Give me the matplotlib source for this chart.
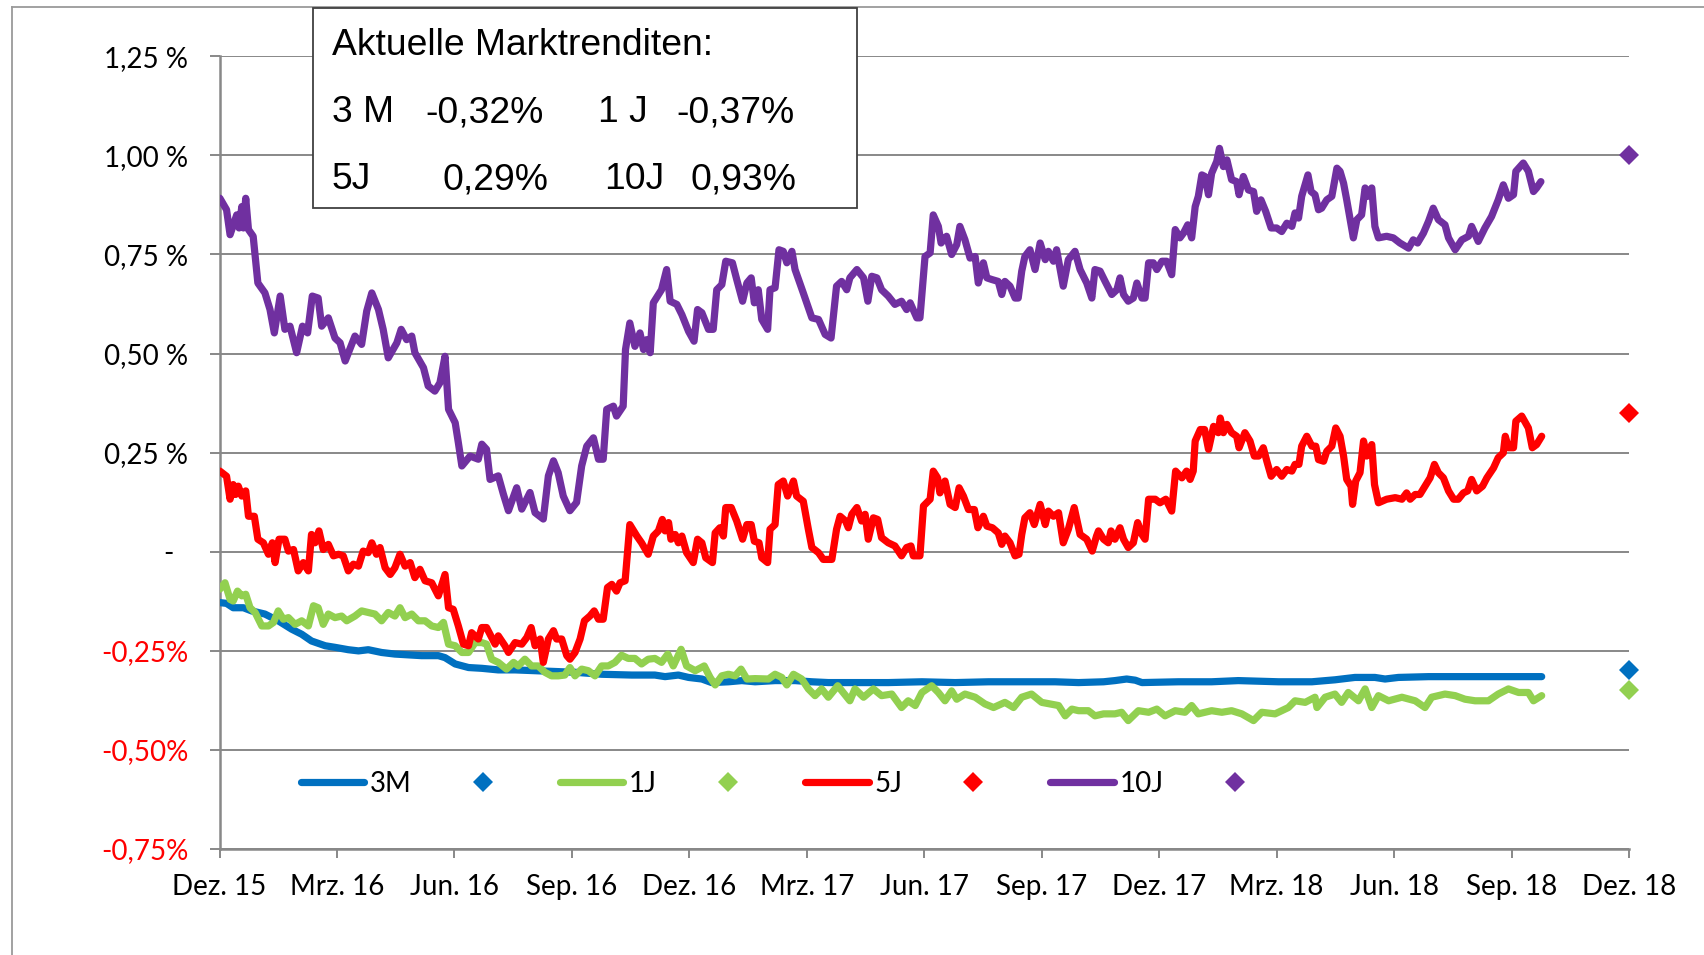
import matplotlib
matplotlib.use("Agg")
import matplotlib.pyplot as plt
from matplotlib.lines import Line2D
from matplotlib.patches import Rectangle

W, H = 1704, 955

# x-Werte: Monate seit 1. Dez. 2015, y-Werte: Rendite in %
m_3m = [0.01, 0.18, 0.35, 0.61, 0.82, 1.16, 1.50, 1.84, 2.10, 2.35, 2.70, 2.95, 3.29, 3.55, 3.80,
        4.14, 4.48, 4.82, 5.16, 5.59, 5.76, 6.02, 6.36, 6.70, 7.12, 7.55, 8.06, 8.57, 9.08, 9.76,
        10.53, 11.12, 11.38, 11.72, 11.98, 12.32, 12.57, 13.00, 13.34, 13.68, 14.19, 14.70, 15.13,
        15.55, 16.23, 17.08, 17.94, 18.79, 19.64, 20.49, 21.34, 21.94, 22.58, 22.87, 23.17, 23.39,
        23.56, 24.49, 25.34, 26.02, 27.05, 27.90, 28.49, 29.00, 29.51, 29.77, 30.11, 30.88, 31.73,
        32.58, 33.77]
y_3m = [-0.129, -0.131, -0.142, -0.142, -0.150, -0.158, -0.175, -0.196, -0.209, -0.226, -0.238,
        -0.242, -0.248, -0.251, -0.248, -0.255, -0.259, -0.261, -0.263, -0.263, -0.268, -0.284,
        -0.293, -0.295, -0.299, -0.299, -0.301, -0.303, -0.305, -0.310, -0.312, -0.312, -0.316,
        -0.312, -0.318, -0.322, -0.331, -0.329, -0.326, -0.329, -0.326, -0.326, -0.329, -0.331,
        -0.331, -0.331, -0.329, -0.331, -0.329, -0.329, -0.329, -0.331, -0.329, -0.326, -0.322,
        -0.325, -0.331, -0.329, -0.329, -0.326, -0.329, -0.329, -0.324, -0.318, -0.318, -0.322,
        -0.318, -0.316, -0.316, -0.316, -0.316]

m_1j = [0.01, 0.14, 0.27, 0.35, 0.46, 0.57, 0.67, 0.78, 0.91, 1.08, 1.25, 1.38, 1.50, 1.63, 1.76,
        1.93, 2.10, 2.27, 2.40, 2.52, 2.65, 2.78, 2.95, 3.12, 3.25, 3.46, 3.63, 3.80, 3.97, 4.14,
        4.31, 4.48, 4.61, 4.74, 4.91, 5.08, 5.25, 5.42, 5.59, 5.72, 5.85, 6.02, 6.19, 6.36, 6.53,
        6.70, 6.82, 6.95, 7.12, 7.33, 7.51, 7.63, 7.80, 7.97, 8.14, 8.31, 8.48, 8.65, 8.82, 8.95,
        9.08, 9.25, 9.42, 9.59, 9.76, 9.93, 10.10, 10.27, 10.44, 10.61, 10.78, 10.95, 11.12,
        11.29, 11.45, 11.59, 11.79, 11.93, 12.15, 12.38, 12.53, 12.66, 12.83, 13.00, 13.17, 13.32,
        13.47, 13.68, 14.02, 14.19, 14.36, 14.49, 14.66, 14.87, 15.04, 15.21, 15.38, 15.55, 15.79,
        15.93, 16.10, 16.23, 16.45, 16.70, 16.91, 17.17, 17.42, 17.59, 17.77, 17.94, 18.19, 18.36,
        18.53, 18.70, 18.83, 19.04, 19.30, 19.55, 19.77, 20.06, 20.28, 20.49, 20.74, 21.00, 21.21,
        21.43, 21.60, 21.77, 21.94, 22.19, 22.36, 22.58, 22.87, 23.04, 23.21, 23.47, 23.73, 23.94,
        24.15, 24.41, 24.66, 24.83, 25.00, 25.34, 25.60, 25.85, 26.11, 26.41, 26.62, 26.96, 27.13,
        27.30, 27.47, 27.73, 27.98, 28.03, 28.24, 28.49, 28.66, 28.83, 29.09, 29.26, 29.43, 29.60,
        29.86, 30.20, 30.54, 30.79, 30.96, 31.30, 31.56, 31.81, 32.07, 32.41, 32.66, 32.92, 33.18,
        33.43, 33.56, 33.77]
y_1j = [-0.095, -0.079, -0.121, -0.125, -0.100, -0.112, -0.108, -0.142, -0.154, -0.188, -0.188,
        -0.179, -0.150, -0.171, -0.167, -0.184, -0.175, -0.188, -0.137, -0.142, -0.184, -0.158,
        -0.167, -0.163, -0.175, -0.163, -0.150, -0.154, -0.158, -0.175, -0.154, -0.163, -0.142,
        -0.167, -0.158, -0.175, -0.175, -0.188, -0.192, -0.179, -0.234, -0.238, -0.255, -0.255,
        -0.230, -0.230, -0.234, -0.272, -0.280, -0.297, -0.280, -0.289, -0.272, -0.289, -0.289,
        -0.305, -0.314, -0.314, -0.312, -0.293, -0.314, -0.297, -0.301, -0.314, -0.289, -0.289,
        -0.280, -0.262, -0.270, -0.270, -0.284, -0.272, -0.270,
        -0.280, -0.259, -0.289, -0.247, -0.289, -0.301, -0.289, -0.318, -0.337, -0.314, -0.310,
        -0.314, -0.297, -0.322, -0.321, -0.322, -0.310, -0.318, -0.337, -0.310, -0.322, -0.347,
        -0.364, -0.347, -0.368, -0.339, -0.356, -0.377, -0.347, -0.368, -0.347, -0.364, -0.360,
        -0.394, -0.377, -0.389, -0.356, -0.339, -0.356, -0.377, -0.352, -0.373, -0.360, -0.368,
        -0.385, -0.394, -0.381, -0.394, -0.368, -0.360, -0.381, -0.385, -0.389, -0.415, -0.398,
        -0.402, -0.402, -0.415, -0.410, -0.410, -0.406, -0.427, -0.402, -0.406, -0.398, -0.415,
        -0.402, -0.406, -0.389, -0.410, -0.402, -0.406, -0.402, -0.410, -0.427, -0.406, -0.410,
        -0.402, -0.394, -0.377, -0.381, -0.368, -0.394, -0.368, -0.360, -0.381, -0.356, -0.377,
        -0.347, -0.394, -0.364, -0.377, -0.368, -0.377, -0.394, -0.368, -0.360, -0.364, -0.373,
        -0.377, -0.377, -0.360, -0.347, -0.356, -0.356, -0.377, -0.364]

m_5j = [0.01, 0.18, 0.27, 0.35, 0.41, 0.48, 0.57, 0.67, 0.74, 0.89, 0.98, 1.12, 1.25, 1.35, 1.42,
        1.52, 1.67, 1.76, 1.89, 2.01, 2.14, 2.27, 2.35, 2.44, 2.54, 2.65, 2.78, 2.91, 3.04, 3.16,
        3.29, 3.42, 3.55, 3.67, 3.80, 3.89, 4.01, 4.10, 4.23, 4.36, 4.48, 4.61, 4.74, 4.87, 4.99,
        5.12, 5.25, 5.42, 5.59, 5.76, 5.85, 5.97, 6.10, 6.23, 6.36, 6.44, 6.61, 6.70, 6.82, 6.95,
        7.04, 7.12, 7.29, 7.38, 7.55, 7.72, 7.85, 7.96, 8.06, 8.19, 8.27, 8.40, 8.53, 8.61, 8.74,
        8.87, 8.95, 9.08, 9.21, 9.32, 9.46, 9.57, 9.68, 9.80, 9.91, 10.02, 10.14, 10.23, 10.36,
        10.48, 10.66, 10.78, 10.95, 11.08, 11.21, 11.31,
        11.38, 11.47, 11.53, 11.64, 11.72, 11.81, 11.93, 12.10, 12.21, 12.32, 12.42, 12.59, 12.66,
        12.78, 12.87, 12.93, 13.07, 13.21, 13.36, 13.47, 13.58, 13.66, 13.78, 13.85, 14.00, 14.06,
        14.19, 14.27, 14.40, 14.51, 14.66, 14.74, 14.91, 15.04, 15.13, 15.30, 15.42, 15.64, 15.76,
        15.85, 15.99, 16.06, 16.15, 16.28, 16.40, 16.49, 16.57, 16.70, 16.81, 16.91, 17.08, 17.25,
        17.42, 17.55, 17.66, 17.72, 17.89, 17.98, 18.15, 18.23, 18.34, 18.40, 18.53, 18.66, 18.79,
        18.89, 19.00, 19.13, 19.28, 19.37, 19.51, 19.60, 19.74, 19.89, 19.98, 20.06, 20.19, 20.32,
        20.42, 20.49, 20.57, 20.70, 20.81, 20.96, 21.09, 21.17, 21.30, 21.43, 21.55, 21.68, 21.83,
        21.98, 22.15, 22.29, 22.40,
        22.45, 22.58, 22.70, 22.77, 22.87, 23.00, 23.09, 23.21, 23.34, 23.45, 23.56, 23.64, 23.73,
        23.90, 24.02, 24.17, 24.32, 24.42, 24.58, 24.70, 24.79, 24.87, 24.92, 25.05, 25.16, 25.26,
        25.39, 25.51, 25.56, 25.64, 25.73, 25.85, 25.98, 26.04, 26.19, 26.32, 26.43, 26.54, 26.66,
        26.75, 26.86, 27.00, 27.13, 27.26, 27.39, 27.47, 27.57, 27.64, 27.77, 27.90, 28.00, 28.07,
        28.20, 28.28, 28.41, 28.51, 28.62, 28.71, 28.79, 28.90, 28.94, 29.02, 29.13, 29.22, 29.30,
        29.43, 29.50, 29.60, 29.81, 30.03, 30.20, 30.32, 30.41, 30.54, 30.66, 30.79, 30.92, 31.03,
        31.13, 31.26, 31.39, 31.52, 31.64, 31.77, 31.88, 31.98, 32.11, 32.26, 32.37, 32.54, 32.66,
        32.79, 32.84, 32.92, 33.05, 33.11, 33.26, 33.43, 33.53, 33.64, 33.77]
y_5j = [0.203, 0.190, 0.132, 0.169, 0.144, 0.165, 0.140, 0.153, 0.089, 0.089, 0.031, 0.022,
        -0.007, 0.022, -0.028, 0.031, 0.031, 0.001, 0.005, -0.049, -0.028, -0.049, 0.043, 0.022,
        0.052, 0.005, 0.018, -0.011, -0.007, -0.011, -0.049, -0.032, -0.037, 0.001, -0.003, 0.022,
        -0.007, 0.010, -0.041, -0.058, -0.041, -0.007, -0.037, -0.028, -0.066, -0.045, -0.074,
        -0.079, -0.112, -0.058, -0.142, -0.146, -0.188, -0.234, -0.238, -0.205, -0.221, -0.192,
        -0.192, -0.217, -0.234, -0.213, -0.238, -0.255, -0.230, -0.234, -0.217, -0.192, -0.238,
        -0.221, -0.280, -0.221, -0.200, -0.221, -0.221, -0.263, -0.272, -0.255, -0.221, -0.175,
        -0.163, -0.150, -0.171, -0.171, -0.091, -0.083, -0.100, -0.079, -0.074, 0.068, 0.039,
        0.022, -0.007, 0.039, 0.052, 0.081,
        0.052, 0.073, 0.031, 0.043, 0.022, 0.039, -0.003, -0.028, 0.031, 0.022, -0.016, -0.028,
        0.047, 0.060, 0.039, 0.111, 0.111, 0.077, 0.031, 0.068, 0.068, 0.026, 0.022, -0.016,
        -0.028, 0.056, 0.068, 0.169, 0.178, 0.140, 0.178, 0.140, 0.127, 0.056, 0.010, -0.003,
        -0.020, -0.020, 0.056, 0.089, 0.077, 0.060, 0.094, 0.111, 0.077, 0.094, 0.031, 0.085,
        0.081, 0.035, 0.022, 0.014, -0.011, 0.010, 0.014, -0.011, -0.011, 0.115, 0.132, 0.203,
        0.186, 0.148, 0.178, 0.119, 0.111, 0.161, 0.140, 0.106, 0.106, 0.060, 0.089, 0.064, 0.060,
        0.047, 0.018, 0.039, 0.022, -0.011, -0.007, 0.043, 0.085, 0.098, 0.068, 0.119, 0.068,
        0.102, 0.089, 0.098, 0.022, 0.056, 0.111, 0.043, 0.031, 0.001, 0.039,
        0.052, 0.031, 0.022, 0.052, 0.031, 0.060, 0.031, 0.010, 0.022, 0.073, 0.043, 0.031, 0.132,
        0.132, 0.123, 0.132, 0.102, 0.203, 0.186, 0.203, 0.182, 0.203, 0.279, 0.308, 0.308, 0.258,
        0.316, 0.300, 0.337, 0.300, 0.321, 0.300, 0.291, 0.262, 0.300, 0.279, 0.241, 0.241, 0.262,
        0.228, 0.190, 0.207, 0.190, 0.207, 0.203, 0.220, 0.220, 0.266, 0.291, 0.266, 0.266, 0.232,
        0.228, 0.253, 0.266, 0.312, 0.291, 0.241, 0.182, 0.165, 0.119, 0.178, 0.199, 0.279, 0.241,
        0.270, 0.169, 0.123, 0.132, 0.136, 0.132, 0.148, 0.132, 0.144, 0.144, 0.165, 0.186, 0.220,
        0.199, 0.186, 0.153, 0.132, 0.132, 0.148, 0.153, 0.182, 0.153, 0.165, 0.186, 0.211, 0.237,
        0.249, 0.291, 0.262, 0.262, 0.329, 0.342, 0.312, 0.262, 0.270, 0.291]

m_10j = [0.01, 0.18, 0.27, 0.44, 0.50, 0.57, 0.61, 0.67, 0.74, 0.86, 0.98, 1.16, 1.29, 1.40, 1.55,
         1.67, 1.80, 1.97, 2.12, 2.25, 2.37, 2.52, 2.61, 2.78, 2.95, 3.08, 3.21, 3.46, 3.63, 3.76,
         3.89, 4.06, 4.18, 4.31, 4.53, 4.64, 4.78, 4.91, 4.99, 5.21, 5.33, 5.50, 5.63, 5.76, 5.85,
         6.02, 6.10, 6.19, 6.40, 6.61, 6.70, 6.82, 6.91, 7.12, 7.25, 7.38, 7.59, 7.72, 7.93, 8.06,
         8.27, 8.40, 8.53, 8.65, 8.78, 8.95, 9.12, 9.25, 9.38, 9.55, 9.68, 9.80, 9.89, 10.06,
         10.14, 10.31, 10.37, 10.48, 10.61, 10.74, 10.83, 10.91, 11.00, 11.08,
         11.29, 11.42, 11.51, 11.68, 11.81, 11.98, 12.12, 12.21, 12.32, 12.49, 12.61, 12.70, 12.83,
         12.93, 13.10, 13.21, 13.36, 13.47, 13.58, 13.66, 13.76, 13.85, 14.00, 14.06, 14.19, 14.29,
         14.40, 14.49, 14.62, 14.70, 14.91, 15.13, 15.30, 15.47, 15.62, 15.76, 15.89, 16.02, 16.10,
         16.28, 16.45, 16.56, 16.66, 16.79, 16.91, 17.08, 17.25, 17.42, 17.55, 17.64, 17.81, 17.89,
         18.02, 18.15, 18.23, 18.36, 18.43, 18.57, 18.70, 18.83, 18.91, 19.04, 19.17, 19.30, 19.38,
         19.51, 19.60, 19.72, 19.89, 19.98, 20.06, 20.19, 20.32, 20.40, 20.49, 20.57, 20.70, 20.83,
         20.96, 21.09, 21.17, 21.30, 21.38, 21.55, 21.68, 21.85, 21.98, 22.15, 22.28, 22.36,
         22.49, 22.62, 22.79, 22.92, 23.00, 23.09, 23.21, 23.34, 23.43, 23.56, 23.64, 23.73, 23.85,
         23.94, 24.07, 24.19, 24.32, 24.41, 24.53, 24.62, 24.73, 24.83, 24.92, 25.00, 25.09, 25.17,
         25.26, 25.34, 25.47, 25.54, 25.64, 25.73, 25.85, 25.98, 26.04, 26.15, 26.28, 26.41, 26.49,
         26.60, 26.72, 26.86, 27.00, 27.13, 27.26, 27.39, 27.47, 27.56, 27.64, 27.80, 27.88, 27.98,
         28.07, 28.15, 28.28, 28.41, 28.54, 28.62, 28.71, 28.79, 28.88, 28.96, 29.05, 29.17, 29.26,
         29.34, 29.43, 29.51, 29.60, 29.81, 29.98, 30.15, 30.37, 30.49, 30.60, 30.75, 30.88, 31.00,
         31.13, 31.30, 31.39, 31.56, 31.73, 31.90, 31.98, 32.15, 32.32, 32.49, 32.66, 32.79, 32.92,
         33.05, 33.11, 33.30, 33.43, 33.56, 33.64, 33.75]
y_10j = [0.892, 0.863, 0.800, 0.850, 0.817, 0.871, 0.817, 0.892, 0.813, 0.796, 0.678, 0.653, 0.611,
         0.552, 0.645, 0.561, 0.569, 0.502, 0.569, 0.552, 0.645, 0.640, 0.569, 0.590, 0.539, 0.527,
         0.481, 0.544, 0.523, 0.607, 0.653, 0.611, 0.561, 0.489, 0.527, 0.561, 0.535, 0.544, 0.502,
         0.464, 0.418, 0.405, 0.426, 0.493, 0.359, 0.325, 0.275, 0.216, 0.241, 0.233, 0.271, 0.258,
         0.182, 0.191, 0.145, 0.103, 0.161, 0.107, 0.149, 0.098, 0.082, 0.191, 0.229, 0.199, 0.140,
         0.103, 0.124, 0.216, 0.266, 0.287, 0.233, 0.233, 0.359, 0.367, 0.342, 0.367, 0.510, 0.577,
         0.518, 0.552, 0.510, 0.535, 0.502, 0.628,
         0.661, 0.712, 0.632, 0.624, 0.598, 0.556, 0.531, 0.611, 0.603, 0.561, 0.561, 0.661, 0.674,
         0.733, 0.729, 0.687, 0.632, 0.678, 0.691, 0.628, 0.661, 0.586, 0.561, 0.661, 0.666, 0.762,
         0.758, 0.729, 0.758, 0.712, 0.653, 0.590, 0.586, 0.548, 0.539, 0.670, 0.682, 0.661, 0.691,
         0.712, 0.691, 0.632, 0.695, 0.691, 0.661, 0.645, 0.624, 0.632, 0.611, 0.628, 0.590, 0.590,
         0.745, 0.754, 0.850, 0.821, 0.779, 0.796, 0.750, 0.775, 0.821, 0.787, 0.741, 0.745, 0.678,
         0.729, 0.691, 0.687, 0.682, 0.649, 0.682, 0.670, 0.640, 0.640, 0.708, 0.745, 0.762, 0.712,
         0.779, 0.737, 0.758, 0.733, 0.762, 0.670, 0.737, 0.758, 0.712, 0.678, 0.640, 0.712,
         0.708, 0.682, 0.649, 0.661, 0.691, 0.649, 0.632, 0.640, 0.678, 0.640, 0.640, 0.729, 0.729,
         0.712, 0.733, 0.733, 0.699, 0.813, 0.792, 0.804, 0.825, 0.792, 0.871, 0.897, 0.951, 0.947,
         0.901, 0.955, 0.985, 1.018, 0.972, 0.989, 0.939, 0.934, 0.901, 0.947, 0.913, 0.909, 0.859,
         0.888, 0.859, 0.817, 0.817, 0.808, 0.829, 0.821, 0.855, 0.842, 0.897, 0.951, 0.909, 0.901,
         0.863, 0.867, 0.888, 0.897, 0.968, 0.960, 0.930, 0.888, 0.838, 0.792, 0.838, 0.850, 0.918,
         0.897, 0.918, 0.821, 0.792, 0.796, 0.792, 0.779, 0.766, 0.787, 0.779, 0.804, 0.834, 0.867,
         0.838, 0.825, 0.792, 0.762, 0.787, 0.796, 0.821, 0.783, 0.817, 0.846, 0.888, 0.926, 0.892,
         0.901, 0.960, 0.981, 0.960, 0.909, 0.918, 0.934]

# Prognose (Rauten bei Dez. 18)
prog_x = 36
prog = {"3M": -0.30, "1J": -0.35, "5J": 0.35, "10J": 1.00}

names = ["3M", "1J", "5J", "10J"]
colors = {"3M": "#0070C0", "1J": "#92D050", "5J": "#FF0000", "10J": "#7030A0"}

yticks = [-0.75, -0.5, -0.25, 0, 0.25, 0.5, 0.75, 1.0, 1.25]
ylabels = ["-0,75%", "-0,50%", "-0,25%", "-  ", "0,25 %", "0,50 %", "0,75 %", "1,00 %", "1,25 %"]
xticks = list(range(0, 37, 3))
xlabels = ["Dez. 15", "Mrz. 16", "Jun. 16", "Sep. 16", "Dez. 16", "Mrz. 17", "Jun. 17",
           "Sep. 17", "Dez. 17", "Mrz. 18", "Jun. 18", "Sep. 18", "Dez. 18"]

box_rows = [
    [("Aktuelle Marktrenditen:", 332)],
    [("3 M", 332), ("-0,32%", 425), ("1 J", 598), ("-0,37%", 676)],
    [("5J", 332), ("0,29%", 443), ("10J", 604), ("0,93%", 691)],
]
box_base = [55, 122, 189]

GRAY = "#888888"
TICKFONT = "Lato"
FS = 20
LW = 5.2

fig = plt.figure(figsize=(W / 100, H / 100), dpi=100)
ax = fig.add_axes([219.5 / W, (H - 848.5) / H, (1629 - 219.5) / W, (848.5 - 56.5) / H])

series = {"3M": (m_3m, y_3m), "1J": (m_1j, y_1j), "5J": (m_5j, y_5j), "10J": (m_10j, y_10j)}
for n in names:
    xs, ys = series[n]
    ax.plot(xs, ys, color=colors[n], lw=LW, solid_joinstyle="round", solid_capstyle="round", zorder=3)
for n in names:
    ax.plot([prog_x], [prog[n]], "D", color=colors[n], ms=10, mew=0, clip_on=False, zorder=4)

ax.set_xlim(0, 36)
ax.set_ylim(-0.75, 1.25)
ax.set_yticks(yticks)
ax.set_yticklabels(ylabels, fontfamily=TICKFONT, fontsize=FS)
for lab, v in zip(ax.get_yticklabels(), yticks):
    lab.set_color("#FF0000" if v < 0 else "black")
ax.set_xticks(xticks)
ax.set_xticklabels(xlabels, fontfamily=TICKFONT, fontsize=FS)
ax.tick_params(axis="y", length=7, width=1.4, color=GRAY, pad=15.5)
ax.tick_params(axis="x", length=6.5, width=1.4, color=GRAY, pad=12)
ax.grid(axis="y", color=GRAY, lw=1.4)
ax.set_axisbelow(True)
for s in ["top", "right"]:
    ax.spines[s].set_visible(False)
for s in ["left", "bottom"]:
    ax.spines[s].set_color(GRAY)
    ax.spines[s].set_linewidth(1.8)

# Legende: Linie + Raute je Laufzeit
handles, labels = [], []
for n in names:
    handles.append(Line2D([], [], color=colors[n], lw=LW, solid_capstyle="round"))
    labels.append(n)
    handles.append(Line2D([], [], color=colors[n], marker="D", ms=10, mew=0, ls="none"))
    labels.append("")
ax.legend(handles, labels, ncol=8, loc="center left", bbox_to_anchor=(0.0575, 0.082),
          frameon=False, borderpad=0, borderaxespad=0, handlelength=2.3, handletextpad=0.2,
          columnspacing=1.41, prop={"family": TICKFONT, "size": FS})

# Rahmen um das ganze Diagramm
fig.add_artist(Line2D([11.5 / W, 11.5 / W], [0, 1 - 7.3 / H], color="#9a9a9a", lw=1.3))
fig.add_artist(Line2D([11.5 / W, 1], [1 - 7.3 / H, 1 - 7.3 / H], color="#9a9a9a", lw=1.3))

# Textfeld mit aktuellen Renditen
fig.add_artist(Rectangle((313.4 / W, 1 - 208.3 / H), (856.8 - 313.4) / W, 200 / H,
                         transform=fig.transFigure, fc="white", ec="#404040", lw=1.3, zorder=5))
for row, yb in zip(box_rows, box_base):
    for txt, xp in row:
        fig.text(xp / W, 1 - yb / H, txt, fontfamily="Liberation Sans", fontsize=26.8,
                 ha="left", va="baseline", zorder=6)

fig.savefig("out.png", dpi=100)
